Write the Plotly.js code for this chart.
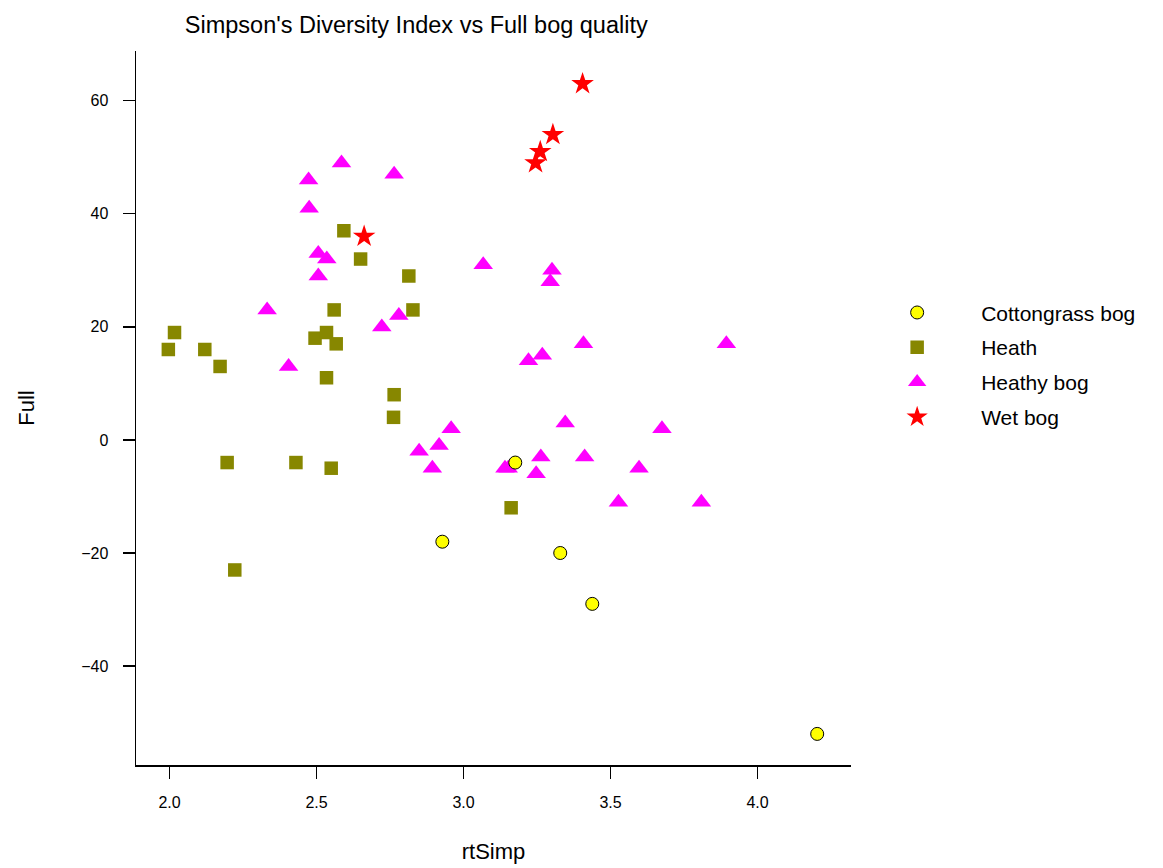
<!DOCTYPE html>
<html>
<head>
<meta charset="utf-8">
<script src="https://cdn.plot.ly/plotly-3.0.1.min.js"></script>
<style>html,body{margin:0;padding:0;background:#fff;}#chart{width:1163px;height:868px;}</style>
</head>
<body>
<div id="chart"></div>
<script>
// Data
const seriesNames = ["Cottongrass bog", "Heath", "Heathy bog", "Wet bog"];

const cottongrassX = [3.176, 2.928, 3.329, 3.438, 4.203];
const cottongrassY = [-4, -18, -20, -29, -52];

const heathX = [1.996, 2.017, 2.120, 2.172, 2.196, 2.222, 2.430, 2.495, 2.534, 2.534,
                2.550, 2.560, 2.567, 2.593, 2.650, 2.764, 2.762, 2.814, 2.828, 3.162];
const heathY = [16, 19, 16, 13, -4, -23, -4, 18, 19, 11,
                -5, 23, 17, 37, 32, 8, 4, 29, 23, -12];

const heathyBogX = [2.585, 2.473, 2.764, 2.475, 2.506, 2.535, 2.506, 2.332, 2.405, 2.722,
                    2.780, 3.067, 3.301, 3.295, 3.221, 3.268, 3.408, 3.894, 2.849, 2.917,
                    2.958, 2.894, 3.141, 3.152, 3.263, 3.247, 3.346, 3.412, 3.527, 3.597,
                    3.675, 3.809];
const heathyBogY = [49, 46, 47, 41, 33, 32, 29, 23, 13, 20,
                    22, 31, 30, 28, 14, 15, 17, 17, -2, -1,
                    2, -5, -5, -5, -3, -6, 3, -3, -11, -5,
                    2, -11];

const wetBogX = [3.405, 3.304, 3.261, 3.245, 2.662];
const wetBogY = [63, 54, 51, 49, 36];

const xTicks = [2.0, 2.5, 3.0, 3.5, 4.0];
const yTicks = [-40, -20, 0, 20, 40, 60];

const FONT = '"Liberation Sans", Arial, Helvetica, sans-serif';

const traces = [
  {
    x: heathX, y: heathY, name: seriesNames[1], type: 'scatter', mode: 'markers',
    legendrank: 2, legendgroup: 'g2',
    marker: {symbol: 'square', size: 13.5, color: '#878700', line: {width: 0}}
  },
  {
    x: heathyBogX, y: heathyBogY, name: seriesNames[2], type: 'scatter', mode: 'markers',
    legendrank: 3, legendgroup: 'g3',
    marker: {symbol: 'triangle-up', size: 17, color: '#ff00ff', line: {width: 0}}
  },
  {
    x: wetBogX, y: wetBogY, name: seriesNames[3], type: 'scatter', mode: 'markers',
    legendrank: 4, legendgroup: 'g4',
    marker: {symbol: 'star', size: 17, color: '#ff0000', line: {width: 0}}
  },
  {
    x: cottongrassX, y: cottongrassY, name: seriesNames[0], type: 'scatter', mode: 'markers',
    legendrank: 1, legendgroup: 'g1',
    marker: {symbol: 'circle', size: 13, color: '#ffff00', line: {width: 1, color: '#000000'}}
  }
];

const layout = {
  width: 1163, height: 868,
  paper_bgcolor: '#ffffff', plot_bgcolor: '#ffffff',
  font: {family: FONT, color: '#000000'},
  margin: {l: 136, r: 312, t: 51, b: 103, pad: 0},
  title: {
    text: "Simpson's Diversity Index vs Full bog quality",
    font: {family: FONT, size: 23.5, color: '#000000'},
    xref: 'paper', x: 0.392, xanchor: 'center',
    yref: 'container', y: 0.972, yanchor: 'middle'
  },
  xaxis: {
    range: [1.886, 4.318], tickvals: xTicks, ticktext: xTicks.map(v => v.toFixed(1)),
    showgrid: false, zeroline: false, showline: true, linecolor: '#000', linewidth: 1.5,
    ticks: 'outside', ticklen: 12, tickwidth: 1.3, tickcolor: '#000',
    tickfont: {family: FONT, size: 16, color: '#000'}, ticklabelstandoff: 10,
    title: {text: 'rtSimp', font: {family: FONT, size: 22, color: '#000'}, standoff: 34},
    automargin: false
  },
  yaxis: {
    range: [-57.5, 68.8], tickvals: yTicks,
    showgrid: false, zeroline: false, showline: true, linecolor: '#000', linewidth: 1.5,
    ticks: 'outside', ticklen: 12, tickwidth: 1.3, tickcolor: '#000',
    tickfont: {family: FONT, size: 16, color: '#000'}, ticklabelstandoff: 11,
    title: {text: 'Full', font: {family: FONT, size: 22, color: '#000'}, standoff: 40},
    automargin: false
  },
  showlegend: true,
  legend: {
    x: 1.003, xanchor: 'left', y: 0.662, yanchor: 'top',
    traceorder: 'grouped', tracegroupgap: 4.5, itemwidth: 118,
    font: {family: FONT, size: 21, color: '#000'},
    bgcolor: 'rgba(0,0,0,0)', borderwidth: 0
  }
};

Plotly.newPlot('chart', traces, layout, {displayModeBar: false, staticPlot: true});
</script>
</body>
</html>
